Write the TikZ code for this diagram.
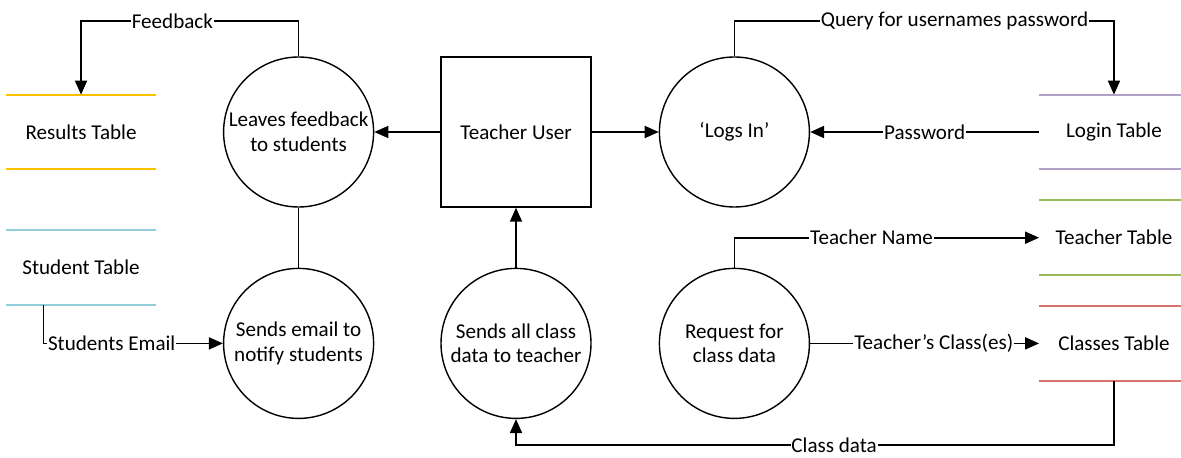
\documentclass[tikz,border=0pt]{standalone}
\usepackage{fontspec}
\setmainfont{Carlito}
\usetikzlibrary{positioning,arrows.meta}
\definecolor{resultsclr}{HTML}{FFC000}
\definecolor{studentclr}{HTML}{92CDDC}
\definecolor{loginclr}{HTML}{B3A2C7}
\definecolor{teacherclr}{HTML}{9BBB59}
\definecolor{classesclr}{HTML}{D9726E}

\begin{document}
\begin{tikzpicture}[font=\fontsize{12}{14}\selectfont]
    \tikzset{process/.style={draw, circle, line width=0.8pt, minimum size=3cm, align=center, inner sep=0pt},
      entity/.style={draw, line width=0.8pt, minimum size=3cm},
      store/.style={minimum width=2.98cm, minimum height=1.48cm},
      storeline/.style={line width=1pt},
      myarrow/.style={-{Triangle[length=0.28cm,width=0.24cm]}, line width=1pt},
      flowlbl/.style={fill=white, inner sep=0.5pt}}
    \useasboundingbox (0,0) rectangle (23.62,-9.16);

    \draw node[entity] (teacher) at (10.32,-2.64) {Teacher User};
    \draw node[process, left=1.32cm of teacher] (leaves) {Leaves feedback\\to students};
    \draw node[process, right=1.34cm of teacher] (logs) {‘Logs In’};
    \draw node[process, below=1.2cm of teacher] (sendsdata) {Sends all class\\data to teacher};
    \draw node[process, below=1.2cm of leaves] (sendsemail) {Sends email to\\notify students};
    \draw node[process, below=1.2cm of logs] (request) {Request for\\class data};

    \draw node[store, left=1.34cm of leaves] (results) {Results Table};
    \draw node[store, below=1.22cm of results] (student) {Student Table};
    \draw node[store, right=4.58cm of logs] (login) {Login Table};
    \draw node[store, below=0.62cm of login] (teachertbl) {Teacher Table};
    \draw node[store, right=4.58cm of request] (classes) {Classes Table};

    \draw[storeline, resultsclr] (results.north west) -- (results.north east) (results.south west) -- (results.south east);
    \draw[storeline, studentclr] (student.north west) -- (student.north east) (student.south west) -- (student.south east);
    \draw[storeline, loginclr] (login.north west) -- (login.north east) (login.south west) -- (login.south east);
    \draw[storeline, teacherclr] (teachertbl.north west) -- (teachertbl.north east) (teachertbl.south west) -- (teachertbl.south east);
    \draw[storeline, classesclr] (classes.north west) -- (classes.north east) (classes.south west) -- (classes.south east);

    \coordinate[above=0.7cm of leaves.north] (fbk);
    \coordinate[above=0.7cm of logs.north] (qry);
    \coordinate[below=1.28cm of classes.south] (cdata);
    \coordinate[left=0.75cm of student.south] (email);

    \draw[myarrow] (teacher) -- (leaves);
    \draw[myarrow] (teacher) -- (logs);
    \draw[myarrow] (sendsdata) -- (teacher);
    \draw[line width=1pt] (leaves) -- (sendsemail);
    \draw[myarrow] (leaves.north) -- (fbk) -| node[flowlbl, pos=0.29] {Feedback} (results.north);
    \draw[myarrow] (logs.north) -- (qry) -| node[flowlbl, pos=0.29] {Query for usernames password} (login.north);
    \draw[myarrow] (login.west) -- node[flowlbl] {Password} (logs.east);
    \draw[myarrow] (email) |- node[flowlbl, pos=0.69] {Students Email} (sendsemail.west);
    \draw[myarrow] (request.north) |- node[flowlbl, pos=0.725] {Teacher Name} (teachertbl.west);
    \draw[myarrow] (request.east) -- node[flowlbl, pos=0.54] {Teacher’s Class(es)} (classes.west);
    \draw[myarrow] (classes.south) -- (cdata) -| node[flowlbl, pos=0.234] {Class data} (sendsdata.south);
\end{tikzpicture}
\end{document}
